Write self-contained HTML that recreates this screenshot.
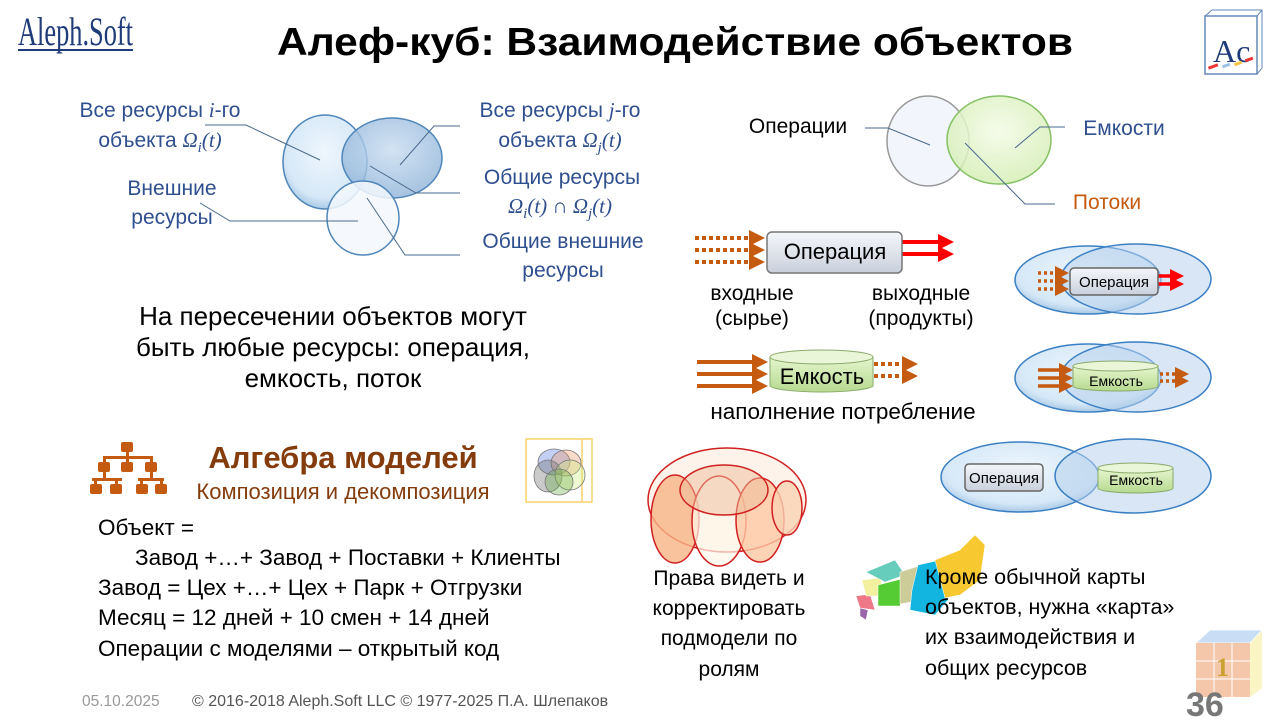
<!DOCTYPE html>
<html><head><meta charset="utf-8"><style>
html,body{margin:0;padding:0;background:#fff;}
svg{display:block;font-family:"Liberation Sans","Noto Sans CJK SC",sans-serif;}
</style></head><body>
<svg width="1280" height="720" viewBox="0 0 1280 720" xmlns="http://www.w3.org/2000/svg">
<defs>
<radialGradient id="bl" cx="50%" cy="40%" r="60%"><stop offset="0" stop-color="#eef6fd"/><stop offset="0.8" stop-color="#d6e8f7"/><stop offset="1" stop-color="#a9c9e6"/></radialGradient>
<radialGradient id="bl2" cx="50%" cy="40%" r="60%"><stop offset="0" stop-color="#c7dcf0" stop-opacity="0.8"/><stop offset="1" stop-color="#8fb3d8" stop-opacity="0.8"/></radialGradient>
<radialGradient id="gr" cx="50%" cy="40%" r="60%"><stop offset="0" stop-color="#f3fbe6" stop-opacity="0.85"/><stop offset="1" stop-color="#d5eeb5" stop-opacity="0.85"/></radialGradient>
<linearGradient id="op" x1="0" y1="0" x2="0" y2="1"><stop offset="0" stop-color="#f4f6fa"/><stop offset="1" stop-color="#c9d0dc"/></linearGradient>
<linearGradient id="cy" x1="0" y1="0" x2="0" y2="1"><stop offset="0" stop-color="#e6f6cf"/><stop offset="1" stop-color="#b6d98f"/></linearGradient>
<marker id="ao" markerWidth="4" markerHeight="4" refX="2" refY="2" orient="auto" markerUnits="strokeWidth"><path d="M0,0 L4,2 L0,4z" fill="#c55a11"/></marker>
<marker id="ar" markerWidth="4" markerHeight="4" refX="2" refY="2" orient="auto" markerUnits="strokeWidth"><path d="M0,0 L4,2 L0,4z" fill="#f00"/></marker>
</defs>

<!-- logos -->
<text x="18" y="45" font-family="Liberation Serif,serif" font-size="40" fill="#1f3b7a" textLength="115" lengthAdjust="spacingAndGlyphs">Aleph.Soft</text>
<rect x="18" y="49" width="115" height="2" fill="#1f3b7a"/>
<rect x="1205" y="16" width="52" height="58" fill="#fff" stroke="#6688bb" stroke-width="1.5"/>
<path d="M1205,16 L1212,10 L1262,10 L1262,68 L1257,74 M1257,16 L1262,10" fill="none" stroke="#6688bb"/>
<text x="1213" y="62" font-family="Liberation Serif,serif" font-size="32" fill="#1f3b7a">Ac</text>
<rect x="1208" y="65" width="10" height="3" fill="#e33" transform="rotate(-20 1213 66)"/>
<rect x="1222" y="64" width="8" height="3" fill="#9cc3e6" transform="rotate(-20 1226 65)"/>
<rect x="1234" y="62" width="8" height="3" fill="#f5c242" transform="rotate(-20 1238 63)"/>
<rect x="1245" y="58" width="8" height="3" fill="#e33" transform="rotate(-20 1249 59)"/>

<text x="675" y="55" text-anchor="middle" font-size="39" font-weight="bold" fill="#000" textLength="796" lengthAdjust="spacingAndGlyphs">Алеф-куб: Взаимодействие объектов</text>

<!-- Venn left -->
<ellipse cx="325" cy="162" rx="42" ry="47" fill="url(#bl)" stroke="#4f86b9" stroke-width="1.5"/>
<ellipse cx="392" cy="158" rx="50" ry="40" fill="url(#bl2)" stroke="#4f86b9" stroke-width="1.5"/>
<ellipse cx="363" cy="218" rx="36" ry="37" fill="#f3f8fd" fill-opacity="0.85" stroke="#4f86b9" stroke-width="1.5"/>
<g stroke="#4a6a8c" stroke-width="1" fill="none">
<polyline points="205,125 246,125 320,160"/>
<polyline points="460,126 434,126 400,165"/>
<polyline points="460,193 416,193 370,166"/>
<polyline points="200,203 230,221 358,221"/>
<polyline points="460,255 405,255 367,198"/>
</g>
<g fill="#2f4f8f" font-size="21" text-anchor="middle">
<text x="160" y="117">Все ресурсы <tspan font-style="italic" font-family="Liberation Serif,serif">i</tspan>-го</text>
<text x="160" y="147">объекта <tspan font-style="italic" font-family="Liberation Serif,serif">Ω<tspan font-size="15" dy="5">i</tspan><tspan dy="-5">(t)</tspan></tspan></text>
<text x="172" y="195">Внешние</text>
<text x="172" y="224">ресурсы</text>
<text x="560" y="117">Все ресурсы <tspan font-style="italic" font-family="Liberation Serif,serif">j</tspan>-го</text>
<text x="560" y="147">объекта <tspan font-style="italic" font-family="Liberation Serif,serif">Ω<tspan font-size="15" dy="5">j</tspan><tspan dy="-5">(t)</tspan></tspan></text>
<text x="562" y="184">Общие ресурсы</text>
<text x="560" y="213" font-family="Liberation Serif,serif" font-style="italic">Ω<tspan font-size="15" dy="5">i</tspan><tspan dy="-5">(t) <tspan font-style="normal">∩</tspan> Ω</tspan><tspan font-size="15" dy="5">j</tspan><tspan dy="-5">(t)</tspan></text>
<text x="563" y="248">Общие внешние</text>
<text x="563" y="277">ресурсы</text>
</g>

<g font-size="26" text-anchor="middle" fill="#000">
<text x="333" y="325">На пересечении объектов могут</text>
<text x="333" y="356">быть любые ресурсы: операция,</text>
<text x="333" y="387">емкость, поток</text>
</g>

<!-- Venn right top -->
<ellipse cx="928" cy="141" rx="41" ry="45" fill="#f2f6fc" stroke="#999" stroke-width="1.5"/>
<ellipse cx="999" cy="140" rx="52" ry="44" fill="url(#gr)" stroke="#86c064" stroke-width="1.5"/>
<g stroke="#4a6a8c" fill="none"><polyline points="865,128 888,128 930,145"/><polyline points="1065,127 1040,127 1015,148"/><polyline points="1055,204 1025,204 965,143"/></g>
<text x="798" y="133" font-size="21" text-anchor="middle">Операции</text>
<text x="1124" y="135" font-size="21" text-anchor="middle" fill="#2f4f8f">Емкости</text>
<text x="1107" y="209" font-size="21" text-anchor="middle" fill="#c55a11">Потоки</text>

<!-- Operation big -->
<g stroke="#c55a11" stroke-width="4" stroke-dasharray="4,3" marker-end="url(#ao)"><line x1="695" y1="238" x2="757" y2="238"/><line x1="695" y1="250" x2="757" y2="250"/><line x1="695" y1="262" x2="757" y2="262"/></g>
<g stroke="#f00" stroke-width="4" marker-end="url(#ar)"><line x1="900" y1="242" x2="946" y2="242"/><line x1="900" y1="254" x2="946" y2="254"/></g>
<rect x="767" y="232" width="135" height="41" rx="5" fill="url(#op)" stroke="#777" stroke-width="1.5"/>
<text x="835" y="259" font-size="22" text-anchor="middle">Операция</text>
<g font-size="21" text-anchor="middle"><text x="752" y="300">входные</text><text x="752" y="325">(сырье)</text><text x="921" y="300">выходные</text><text x="921" y="325">(продукты)</text></g>

<!-- Emkost big -->
<g stroke="#c55a11" stroke-width="4" marker-end="url(#ao)"><line x1="697" y1="362" x2="760" y2="362"/><line x1="697" y1="374" x2="760" y2="374"/><line x1="697" y1="386" x2="760" y2="386"/></g>
<g stroke="#c55a11" stroke-width="4" stroke-dasharray="4,3" marker-end="url(#ao)"><line x1="874" y1="364" x2="910" y2="364"/><line x1="874" y1="376" x2="910" y2="376"/></g>
<path d="M770,357 L770,386 A52,7 0 0 0 873,386 L873,357z" fill="url(#cy)" stroke="#8aaa6a"/>
<ellipse cx="821.5" cy="357" rx="51.5" ry="7" fill="#eaf6d8" stroke="#8aaa6a"/>
<text x="822" y="384" font-size="22" text-anchor="middle">Емкость</text>
<text x="843" y="419" font-size="22.5" text-anchor="middle">наполнение  потребление</text>

<!-- right groups -->
<g stroke="#3b7fc4" stroke-width="1.5">
<ellipse cx="1088" cy="280" rx="73" ry="34" fill="url(#bl)"/>
<ellipse cx="1136" cy="279" rx="75" ry="35" fill="#b8d2ec" fill-opacity="0.55"/>
<ellipse cx="1088" cy="378" rx="73" ry="34" fill="url(#bl)"/>
<ellipse cx="1136" cy="377" rx="75" ry="35" fill="#b8d2ec" fill-opacity="0.55"/>
<ellipse cx="1020" cy="477" rx="79" ry="35" fill="url(#bl)"/>
<ellipse cx="1133" cy="476" rx="78" ry="37" fill="#b8d2ec" fill-opacity="0.55"/>
</g>
<g stroke="#c55a11" stroke-width="3.5" stroke-dasharray="3,3" marker-end="url(#ao)"><line x1="1038" y1="273" x2="1062" y2="273"/><line x1="1038" y1="281" x2="1062" y2="281"/><line x1="1038" y1="289" x2="1062" y2="289"/></g>
<g stroke="#f00" stroke-width="3.5" marker-end="url(#ar)"><line x1="1156" y1="276" x2="1177" y2="276"/><line x1="1156" y1="284" x2="1177" y2="284"/></g>
<rect x="1070" y="268" width="88" height="27" rx="4" fill="url(#op)" stroke="#666" stroke-width="1.5"/>
<text x="1114" y="287" font-size="15" text-anchor="middle">Операция</text>

<g stroke="#c55a11" stroke-width="3.5" marker-end="url(#ao)"><line x1="1038" y1="370" x2="1066" y2="370"/><line x1="1038" y1="378" x2="1066" y2="378"/><line x1="1038" y1="386" x2="1066" y2="386"/></g>
<g stroke="#c55a11" stroke-width="3.5" stroke-dasharray="3,3" marker-end="url(#ao)"><line x1="1160" y1="374" x2="1182" y2="374"/><line x1="1160" y1="381" x2="1182" y2="381"/></g>
<path d="M1073,366 L1073,386 A42.5,5 0 0 0 1158,386 L1158,366z" fill="url(#cy)" stroke="#8aaa6a"/>
<ellipse cx="1115.5" cy="366" rx="42.5" ry="5" fill="#eaf6d8" stroke="#8aaa6a"/>
<text x="1116" y="386" font-size="14" text-anchor="middle">Емкость</text>

<g stroke="#c55a11" stroke-width="3.5" marker-end="url(#ao)"><line x1="1004" y1="473" x2="1035" y2="473"/><line x1="1004" y1="481" x2="1035" y2="481"/></g>
<rect x="965" y="464" width="78" height="27" rx="4" fill="url(#op)" stroke="#666" stroke-width="1.5"/>
<text x="1004" y="483" font-size="15" text-anchor="middle">Операция</text>
<path d="M1098,468 L1098,488 A37.5,5 0 0 0 1173,488 L1173,468z" fill="url(#cy)" stroke="#8aaa6a"/>
<ellipse cx="1135.5" cy="468" rx="37.5" ry="5" fill="#eaf6d8" stroke="#8aaa6a"/>
<text x="1136" y="485" font-size="14" text-anchor="middle">Емкость</text>

<!-- algebra -->
<g fill="#c55a11">
<rect x="121" y="442" width="12" height="10" rx="2"/>
<rect x="126" y="452" width="3" height="6"/><rect x="103" y="456" width="50" height="3"/>
<rect x="103" y="456" width="3" height="8"/><rect x="126" y="456" width="3" height="8"/><rect x="150" y="456" width="3" height="8"/>
<rect x="98" y="462" width="12" height="10" rx="2"/><rect x="121" y="462" width="12" height="10" rx="2"/><rect x="145" y="462" width="12" height="10" rx="2"/>
<rect x="103" y="472" width="3" height="8"/><rect x="150" y="472" width="3" height="8"/>
<rect x="92" y="478" width="30" height="3"/><rect x="138" y="478" width="26" height="3"/>
<rect x="90" y="484" width="12" height="10" rx="2"/><rect x="110" y="484" width="12" height="10" rx="2"/><rect x="136" y="484" width="12" height="10" rx="2"/><rect x="155" y="484" width="12" height="10" rx="2"/>
<rect x="94" y="480" width="3" height="5"/><rect x="115" y="480" width="3" height="5"/><rect x="140" y="480" width="3" height="5"/><rect x="160" y="480" width="3" height="5"/>
</g>
<text x="343" y="468" font-size="31" font-weight="bold" fill="#843c0c" text-anchor="middle">Алгебра моделей</text>
<text x="343" y="499" font-size="22" fill="#843c0c" text-anchor="middle">Композиция и декомпозиция</text>
<rect x="526" y="439" width="66" height="63" fill="none" stroke="#f7d36b" stroke-width="1.5"/><line x1="582" y1="439" x2="582" y2="502" stroke="#f7d36b" stroke-width="1.5"/>
<g stroke="#777" stroke-width="0.8" fill-opacity="0.35">
<ellipse cx="554" cy="462" rx="16" ry="13" fill="#5577dd"/>
<ellipse cx="566" cy="463" rx="15" ry="13" fill="#ee9966"/>
<ellipse cx="548" cy="476" rx="14" ry="16" fill="#666"/>
<ellipse cx="570" cy="475" rx="15" ry="15" fill="#ccee77"/>
<ellipse cx="559" cy="482" rx="14" ry="13" fill="#66aa44"/>
</g>

<g font-size="22.5" fill="#000">
<text x="98" y="535">Объект =</text>
<text x="135" y="565">Завод +…+ Завод + Поставки + Клиенты</text>
<text x="98" y="595">Завод = Цех +…+ Цех + Парк + Отгрузки</text>
<text x="98" y="625">Месяц = 12 дней + 10 смен + 14 дней</text>
<text x="98" y="656">Операции с моделями – открытый код</text>
</g>

<!-- red ellipses -->
<g stroke="#d02020" stroke-width="1.5">
<ellipse cx="727" cy="500" rx="79" ry="52" fill="#fdf3ea"/>
<ellipse cx="675" cy="519" rx="24" ry="44" fill="#f8b486" fill-opacity="0.8"/>
<ellipse cx="719" cy="521" rx="27" ry="45" fill="#fff6ea" fill-opacity="0.7"/>
<ellipse cx="760" cy="520" rx="24" ry="42" fill="#fcc8a2" fill-opacity="0.8"/>
<ellipse cx="787" cy="508" rx="15" ry="27" fill="#f9d2b4" fill-opacity="0.8"/>
<ellipse cx="724" cy="490" rx="44" ry="25" fill="#eebb99" fill-opacity="0.5"/>
</g>
<g font-size="21" text-anchor="middle"><text x="729" y="585">Права видеть и</text><text x="729" y="615">корректировать</text><text x="729" y="645">подмодели по</text><text x="729" y="676">ролям</text></g>

<!-- map -->
<g stroke="#fff" stroke-width="0.5">
<path d="M856,596 L870,594 L875,610 L860,608z" fill="#ee7788"/>
<path d="M860,608 L868,610 L866,620 L860,616z" fill="#9966aa"/>
<path d="M862,580 L880,578 L885,596 L866,596z" fill="#f3f0a0"/>
<path d="M866,572 L895,560 L905,575 L885,582z" fill="#66ccbb"/>
<path d="M878,585 L905,578 L900,606 L878,606z" fill="#55cc33"/>
<path d="M900,572 L922,565 L922,600 L900,604z" fill="#cccc99"/>
<path d="M918,565 L940,560 L948,600 L935,615 L910,610 L912,590z" fill="#11b5e0"/>
<path d="M935,560 L960,550 L975,535 L985,545 L980,580 L960,595 L945,598z" fill="#f8c830"/>
</g>
<g font-size="21.5"><text x="925" y="584">Кроме обычной карты</text><text x="925" y="614">объектов, нужна «карта»</text><text x="925" y="644">их взаимодействия и</text><text x="925" y="675">общих ресурсов</text></g>

<!-- footer -->
<text x="82" y="706" font-size="15.5" fill="#999">05.10.2025</text>
<text x="192" y="706" font-size="16" fill="#555">© 2016-2018 Aleph.Soft LLC © 1977-2025 П.А. Шлепаков</text>
<g>
<path d="M1212,630 L1262,630 L1262,688 L1250,697 L1200,697z" fill="#fbf4c4"/>
<path d="M1196,643 L1210,630 L1262,630 L1250,643z" fill="#c9def4" stroke="#fff" stroke-width="0.8"/>
<rect x="1196" y="643" width="54" height="54" fill="#f5c7aa"/>
<g stroke="#fff" stroke-width="1"><line x1="1214" y1="643" x2="1214" y2="697"/><line x1="1232" y1="643" x2="1232" y2="697"/><line x1="1196" y1="661" x2="1250" y2="661"/><line x1="1196" y1="679" x2="1250" y2="679"/></g>
<text x="1216" y="676" font-size="26" font-weight="bold" fill="#c9a230" font-family="Liberation Serif,serif">1</text>
</g>
<text x="1186" y="716" font-size="34" font-weight="bold" fill="#777">36</text>
</svg>
</body></html>
